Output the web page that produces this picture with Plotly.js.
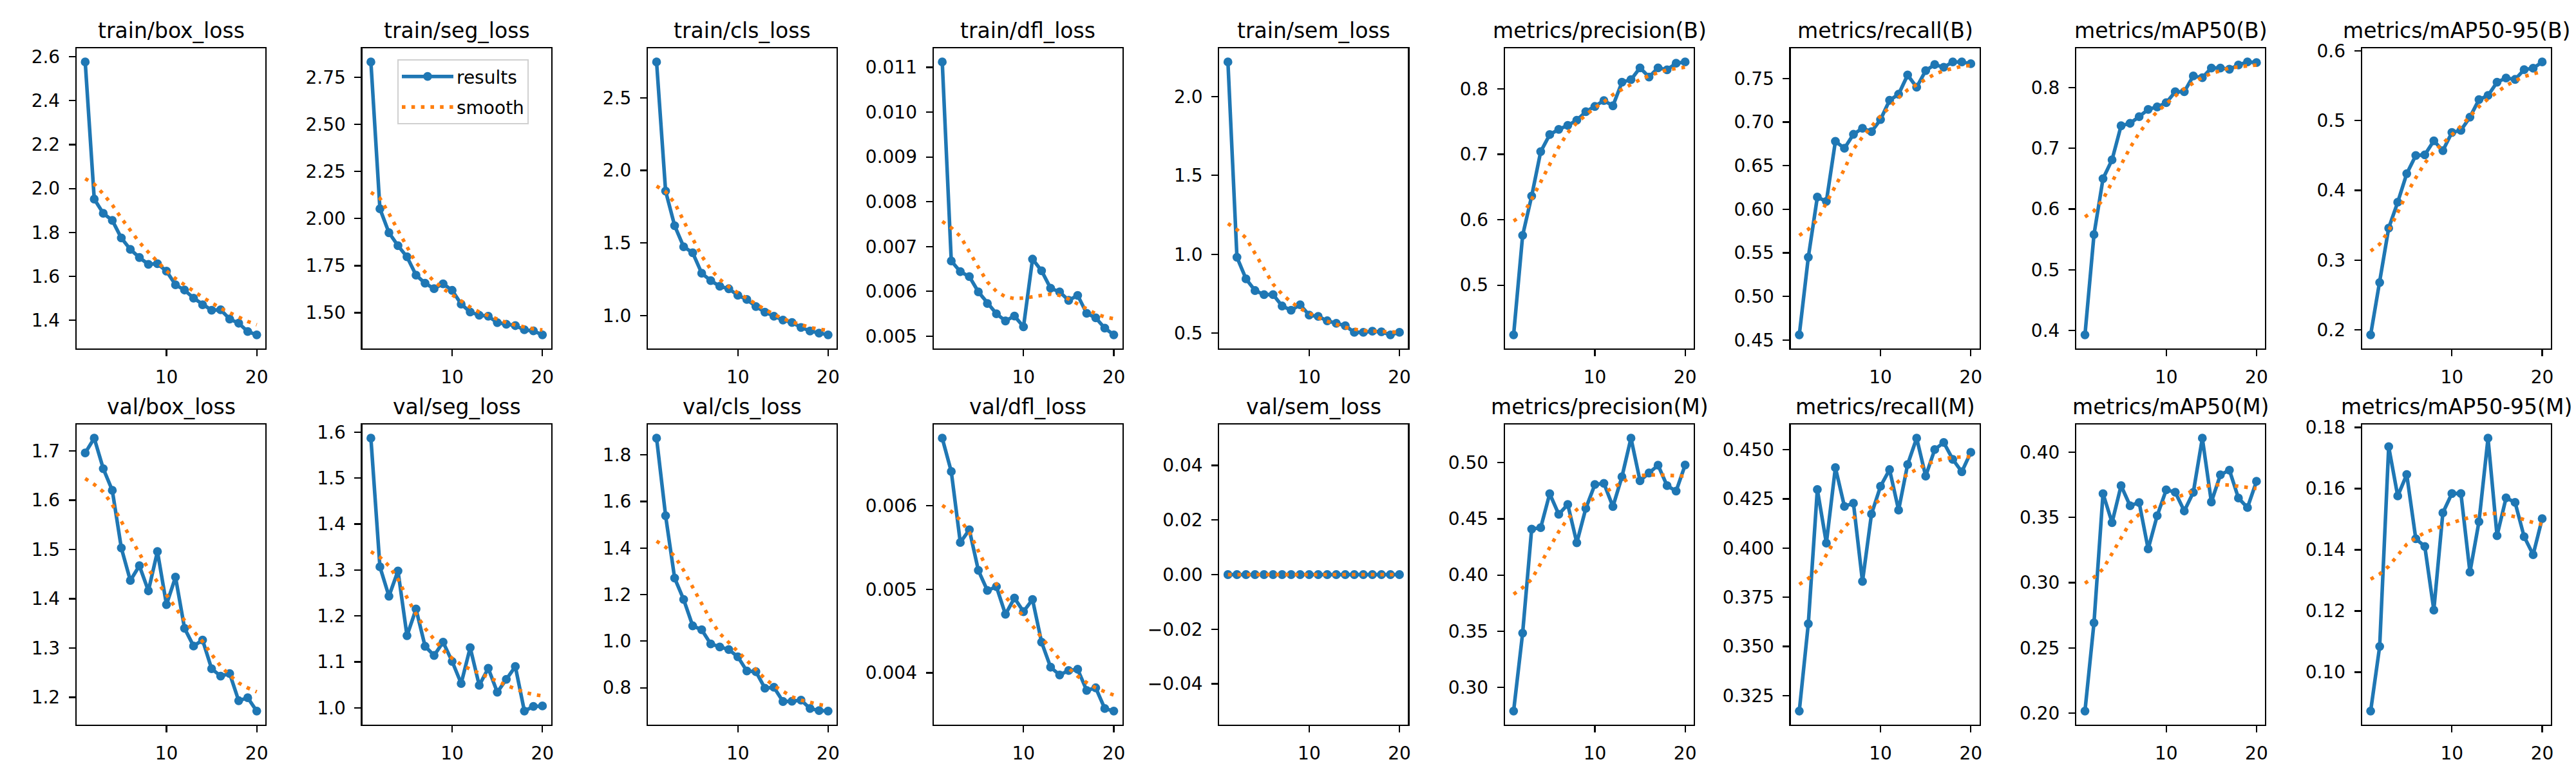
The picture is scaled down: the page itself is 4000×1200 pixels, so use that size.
<!DOCTYPE html>
<html><head><meta charset="utf-8">
<script src="https://cdn.plot.ly/plotly-3.0.1.min.js"></script>
<style>html,body{margin:0;padding:0;background:#fff}</style>
</head><body>
<div id="chart" style="width:4000px;height:1200px"></div>
<script>
const epochs = [1,2,3,4,5,6,7,8,9,10,11,12,13,14,15,16,17,18,19,20];

const panelTitles = ["train/box_loss","train/seg_loss","train/cls_loss","train/dfl_loss","train/sem_loss",
  "metrics/precision(B)","metrics/recall(B)","metrics/mAP50(B)","metrics/mAP50-95(B)",
  "val/box_loss","val/seg_loss","val/cls_loss","val/dfl_loss","val/sem_loss",
  "metrics/precision(M)","metrics/recall(M)","metrics/mAP50(M)","metrics/mAP50-95(M)"];

// results (blue) and smooth (orange dotted)
const trainBox = [2.576,1.952,1.887,1.855,1.775,1.723,1.686,1.655,1.658,1.624,1.562,1.538,1.501,1.471,1.446,1.448,1.406,1.387,1.349,1.334];
const trainBoxS = [2.045,2.02,1.975,1.925,1.865,1.81,1.755,1.71,1.665,1.625,1.59,1.56,1.53,1.505,1.48,1.455,1.435,1.415,1.395,1.38];
const trainSeg = [2.831,2.052,1.925,1.856,1.797,1.700,1.657,1.628,1.654,1.619,1.546,1.504,1.487,1.482,1.448,1.439,1.432,1.410,1.404,1.383];
const trainSegS = [2.139,2.108,2.026,1.934,1.85,1.765,1.713,1.667,1.628,1.595,1.56,1.53,1.504,1.484,1.465,1.448,1.435,1.423,1.415,1.409];
const trainCls = [2.746,1.858,1.620,1.475,1.434,1.293,1.242,1.203,1.186,1.141,1.112,1.064,1.025,0.997,0.971,0.954,0.920,0.895,0.881,0.869];
const trainClsS = [1.892,1.853,1.776,1.649,1.53,1.412,1.319,1.25,1.2,1.158,1.119,1.081,1.044,1.01,0.98,0.958,0.937,0.92,0.908,0.9];
const trainDfl = [0.01112,0.00668,0.00644,0.00633,0.00599,0.00573,0.00550,0.00534,0.00545,0.00521,0.00672,0.00646,0.00607,0.00599,0.00580,0.00591,0.00551,0.00541,0.00518,0.00503];
const trainDflS = [0.00756,0.00742,0.00723,0.00687,0.00654,0.00621,0.0060,0.00588,0.00584,0.00585,0.00588,0.00591,0.00594,0.00591,0.00583,0.00572,0.0056,0.0055,0.00543,0.00539];
const trainSem = [2.219,0.981,0.844,0.770,0.744,0.744,0.672,0.645,0.680,0.614,0.606,0.578,0.562,0.547,0.505,0.505,0.512,0.508,0.489,0.505];
const trainSemS = [1.195,1.156,1.103,1.005,0.903,0.81,0.747,0.697,0.656,0.625,0.598,0.575,0.556,0.536,0.525,0.516,0.513,0.509,0.505,0.505];
const precB = [0.424,0.576,0.636,0.704,0.730,0.738,0.744,0.752,0.765,0.773,0.782,0.774,0.810,0.814,0.832,0.818,0.832,0.829,0.839,0.841];
const precBS = [0.598,0.607,0.631,0.658,0.684,0.711,0.733,0.748,0.76,0.771,0.78,0.791,0.799,0.807,0.814,0.82,0.825,0.829,0.831,0.833];
const recB = [0.456,0.545,0.614,0.609,0.678,0.670,0.686,0.693,0.689,0.703,0.725,0.732,0.754,0.740,0.759,0.766,0.763,0.769,0.769,0.767];
const recBS = [0.570,0.577,0.588,0.607,0.626,0.646,0.669,0.683,0.695,0.707,0.717,0.728,0.737,0.743,0.75,0.755,0.759,0.762,0.764,0.765];
const map50B = [0.393,0.558,0.650,0.681,0.737,0.741,0.752,0.764,0.768,0.775,0.793,0.793,0.819,0.816,0.832,0.832,0.830,0.837,0.842,0.841];
const map50BS = [0.587,0.597,0.616,0.644,0.673,0.701,0.725,0.745,0.76,0.774,0.786,0.798,0.808,0.817,0.823,0.828,0.832,0.834,0.836,0.837];
const map5095B = [0.193,0.268,0.346,0.383,0.424,0.450,0.451,0.471,0.457,0.483,0.486,0.505,0.530,0.536,0.555,0.561,0.559,0.573,0.575,0.584];
const map5095BS = [0.313,0.323,0.342,0.368,0.395,0.418,0.439,0.455,0.467,0.479,0.492,0.506,0.520,0.531,0.541,0.550,0.557,0.563,0.567,0.570];
const valBox = [1.696,1.726,1.664,1.620,1.503,1.437,1.467,1.416,1.496,1.388,1.444,1.340,1.304,1.316,1.258,1.243,1.248,1.193,1.199,1.172];
const valBoxS = [1.644,1.632,1.617,1.591,1.557,1.523,1.492,1.460,1.434,1.407,1.379,1.356,1.334,1.313,1.287,1.263,1.245,1.229,1.219,1.211];
const valSeg = [1.587,1.307,1.243,1.298,1.157,1.215,1.134,1.114,1.143,1.101,1.053,1.131,1.049,1.086,1.034,1.062,1.090,0.993,1.003,1.004];
const valSegS = [1.340,1.328,1.309,1.280,1.240,1.204,1.173,1.148,1.125,1.108,1.094,1.084,1.076,1.067,1.058,1.049,1.041,1.034,1.029,1.026];
const valCls = [1.872,1.539,1.271,1.179,1.066,1.049,0.988,0.975,0.964,0.933,0.872,0.869,0.798,0.802,0.741,0.742,0.747,0.711,0.702,0.700];
const valClsS = [1.430,1.404,1.365,1.304,1.232,1.16,1.09,1.033,0.994,0.955,0.916,0.878,0.839,0.809,0.783,0.761,0.747,0.736,0.728,0.722];
const valDfl = [0.006810,0.006411,0.005561,0.005713,0.005227,0.004986,0.005032,0.004702,0.004896,0.004733,0.004878,0.004368,0.004068,0.003975,0.004028,0.004043,0.003790,0.003821,0.003573,0.003543];
const valDflS = [0.006006,0.005932,0.00583,0.005682,0.005459,0.005243,0.005063,0.004909,0.004794,0.004686,0.004563,0.004423,0.004284,0.004161,0.004053,0.00396,0.003883,0.003821,0.003774,0.003734];
const valSem = [0,0,0,0,0,0,0,0,0,0,0,0,0,0,0,0,0,0,0,0];
const valSemS = [0,0,0,0,0,0,0,0,0,0,0,0,0,0,0,0,0,0,0,0];
const precM = [0.2789,0.3483,0.4409,0.4421,0.4724,0.4540,0.4628,0.4287,0.4593,0.4805,0.4816,0.4609,0.4874,0.5218,0.4839,0.4908,0.4977,0.4795,0.4747,0.4979];
const precMS = [0.3828,0.3887,0.3961,0.4103,0.4248,0.4386,0.4501,0.4582,0.4639,0.4685,0.4736,0.4777,0.483,0.4869,0.4885,0.4892,0.4892,0.4887,0.4885,0.488];
const recM = [0.3171,0.3615,0.4298,0.4025,0.4409,0.4212,0.4228,0.3830,0.4173,0.4314,0.4399,0.4193,0.4425,0.4559,0.4366,0.4501,0.4537,0.4451,0.4388,0.4487];
const recMS = [0.3815,0.3845,0.3887,0.3966,0.4044,0.4106,0.4153,0.4185,0.4211,0.4248,0.4294,0.434,0.4375,0.4402,0.4425,0.4442,0.4454,0.4461,0.4465,0.4465];
const map50M = [0.2016,0.2692,0.3682,0.3460,0.3743,0.3589,0.3614,0.3258,0.3513,0.3711,0.3693,0.3549,0.3691,0.4107,0.3618,0.3826,0.3862,0.3648,0.3575,0.3776];
const map50MS = [0.2995,0.3041,0.3104,0.3223,0.3351,0.346,0.3523,0.3559,0.3589,0.3618,0.3648,0.3678,0.3707,0.3733,0.3747,0.3751,0.3747,0.3737,0.3727,0.3721];
const map5095M = [0.0873,0.1084,0.1737,0.1576,0.1646,0.1436,0.1411,0.1203,0.1521,0.1584,0.1584,0.1327,0.1492,0.1765,0.1446,0.1570,0.1555,0.1443,0.1384,0.1502];
const map5095MS = [0.1304,0.1321,0.1346,0.1384,0.1418,0.1439,0.1456,0.1468,0.1479,0.1489,0.1498,0.1506,0.1513,0.1519,0.1519,0.1515,0.1508,0.1498,0.1489,0.1483];

// y tick values per panel
const yt1 = [1.4,1.6,1.8,2.0,2.2,2.4,2.6];
const yt2 = [1.50,1.75,2.00,2.25,2.50,2.75];
const yt3 = [1.0,1.5,2.0,2.5];
const yt4 = [0.005,0.006,0.007,0.008,0.009,0.010,0.011];
const yt5 = [0.5,1.0,1.5,2.0];
const yt6 = [0.5,0.6,0.7,0.8];
const yt7 = [0.45,0.50,0.55,0.60,0.65,0.70,0.75];
const yt8 = [0.4,0.5,0.6,0.7,0.8];
const yt9 = [0.2,0.3,0.4,0.5,0.6];
const yt10 = [1.2,1.3,1.4,1.5,1.6,1.7];
const yt11 = [1.0,1.1,1.2,1.3,1.4,1.5,1.6];
const yt12 = [0.8,1.0,1.2,1.4,1.6,1.8];
const yt13 = [0.004,0.005,0.006];
const yt14 = [-0.04,-0.02,0.00,0.02,0.04];
const yt15 = [0.30,0.35,0.40,0.45,0.50];
const yt16 = [0.325,0.350,0.375,0.400,0.425,0.450];
const yt17 = [0.20,0.25,0.30,0.35,0.40];
const yt18 = [0.10,0.12,0.14,0.16,0.18];
const yDecimals = [1,2,1,3,1,1,2,1,1, 1,1,1,3,2,2,3,2,2];
const xTicks = [10,20];

const resultsList = [trainBox,trainSeg,trainCls,trainDfl,trainSem,precB,recB,map50B,map5095B,
                     valBox,valSeg,valCls,valDfl,valSem,precM,recM,map50M,map5095M];
const smoothList = [trainBoxS,trainSegS,trainClsS,trainDflS,trainSemS,precBS,recBS,map50BS,map5095BS,
                    valBoxS,valSegS,valClsS,valDflS,valSemS,precMS,recMS,map50MS,map5095MS];
const yTickList = [yt1,yt2,yt3,yt4,yt5,yt6,yt7,yt8,yt9,yt10,yt11,yt12,yt13,yt14,yt15,yt16,yt17,yt18];

const W = 4000, H = 1200;
const axLeft0 = 119, axStep = 443.6, axW = 293;
const axTop0 = 75, rowStep = 584, axH = 466;
const FONT = "DejaVu Sans";
const BLUE = "#1f77b4", ORANGE = "#ff7f0e";

function mplRange(arrs) {
  let lo = Infinity, hi = -Infinity;
  arrs.forEach(a => a.forEach(v => { lo = Math.min(lo, v); hi = Math.max(hi, v); }));
  if (hi === lo) { const d = lo === 0 ? 0.05 : Math.abs(lo) * 0.05; lo -= d; hi += d; }
  const m = (hi - lo) * 0.05;
  return [lo - m, hi + m];
}
function fmtTick(v, d) {
  let s = v.toFixed(d);
  if (/^-0\.0*$/.test(s)) s = s.slice(1);
  return s.startsWith("-") ? "\u2212" + s.slice(1) : s;
}

const traces = [];
const layout = {
  width: W, height: H,
  margin: {l: 0, r: 0, t: 0, b: 0},
  paper_bgcolor: "#ffffff", plot_bgcolor: "#ffffff",
  font: {family: FONT, size: 28, color: "#000000"},
  showlegend: true,
  legend: {
    x: 617 / W, y: 1 - 92 / H, xanchor: "left", yanchor: "top",
    bgcolor: "rgba(255,255,255,0.8)", bordercolor: "#d0d0d0", borderwidth: 2,
    font: {family: FONT, size: 28, color: "#000"},
    itemwidth: 80, tracegroupgap: 8
  },
  annotations: []
};

for (let i = 0; i < 18; i++) {
  const r = Math.floor(i / 9), c = i % 9;
  const sfx = i === 0 ? "" : String(i + 1);
  const left = axLeft0 + axStep * c;
  const top = axTop0 + rowStep * r;
  const xr = mplRange([epochs]);
  const yr = mplRange([resultsList[i], smoothList[i]]);
  const axCommon = {
    showline: true, mirror: true, linecolor: "#000", linewidth: 2.2,
    ticks: "outside", ticklen: 10, tickwidth: 2.2, tickcolor: "#000",
    showgrid: false, zeroline: false, fixedrange: true,
    tickfont: {family: FONT, size: 28, color: "#000"}, ticklabelstandoff: 8
  };
  layout["xaxis" + sfx] = Object.assign({}, axCommon, {
    domain: [left / W, (left + axW) / W], range: xr,
    anchor: "y" + sfx, tickmode: "array", tickvals: xTicks, ticktext: xTicks.map(String)
  });
  layout["yaxis" + sfx] = Object.assign({}, axCommon, {
    domain: [1 - (top + axH) / H, 1 - top / H], range: yr,
    anchor: "x" + sfx, tickmode: "array", tickvals: yTickList[i],
    ticktext: yTickList[i].map(v => fmtTick(v, yDecimals[i]))
  });
  traces.push({
    x: epochs, y: resultsList[i], xaxis: "x" + sfx, yaxis: "y" + sfx,
    type: "scatter", mode: "lines+markers", name: "results",
    line: {color: BLUE, width: 5.56},
    marker: {color: BLUE, size: 11, line: {color: BLUE, width: 2.8}},
    showlegend: i === 1, legendgroup: "results", hoverinfo: "skip"
  });
  traces.push({
    x: epochs, y: smoothList[i], xaxis: "x" + sfx, yaxis: "y" + sfx,
    type: "scatter", mode: "lines", name: "smooth",
    line: {color: ORANGE, width: 5.56, dash: "5.6px,9.2px"},
    showlegend: i === 1, legendgroup: "smooth", hoverinfo: "skip"
  });
  layout.annotations.push({
    text: panelTitles[i], xref: "paper", yref: "paper",
    x: (left + axW / 2) / W, y: 1 - top / H, xanchor: "center", yanchor: "bottom",
    yshift: 6, showarrow: false, font: {family: FONT, size: 33, color: "#000"}
  });
}

Plotly.newPlot("chart", traces, layout, {staticPlot: true, displayModeBar: false});
</script>
</body></html>
